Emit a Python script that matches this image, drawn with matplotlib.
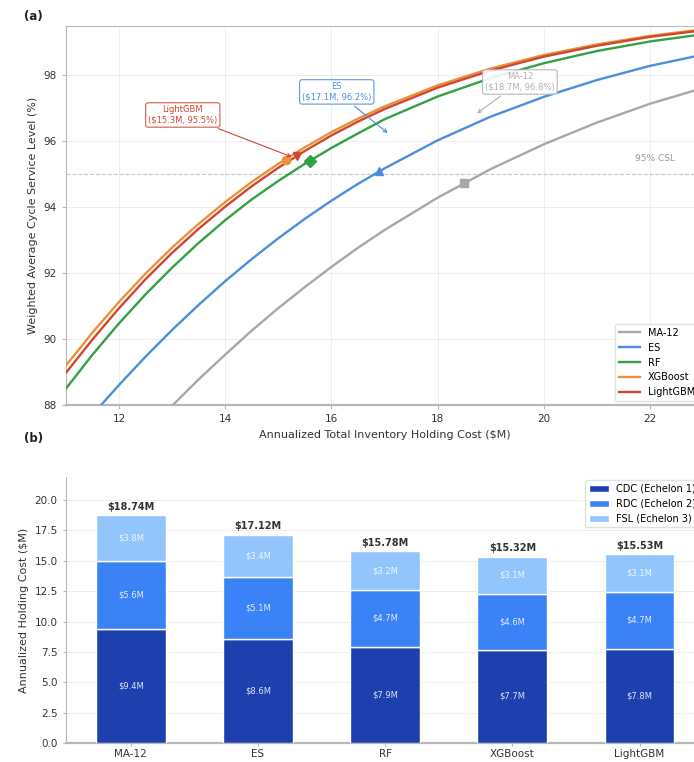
import numpy as np
import matplotlib.pyplot as plt

# ----------------------------------------------------------------------------
#    Data
# ----------------------------------------------------------------------------
cost_grid = [11, 11.5, 12, 12.5, 13, 13.5, 14, 14.5, 15, 15.5, 16, 16.5, 17,
             18, 19, 20, 21, 22, 23]

csl_ma12 = [84.38, 85.34, 86.26, 87.14, 87.98, 88.78, 89.53, 90.26, 90.94, 91.58,
            92.19, 92.77, 93.31, 94.29, 95.16, 95.91, 96.57, 97.14, 97.62]
csl_es = [86.75, 87.71, 88.61, 89.47, 90.28, 91.04, 91.76, 92.43, 93.06, 93.65,
          94.20, 94.71, 95.18, 96.03, 96.75, 97.35, 97.86, 98.29, 98.63]
csl_rf = [88.50, 89.53, 90.48, 91.36, 92.17, 92.92, 93.61, 94.24, 94.80, 95.32,
          95.80, 96.24, 96.67, 97.36, 97.92, 98.37, 98.74, 99.03, 99.25]
csl_xgb = [89.20, 90.20, 91.13, 91.99, 92.78, 93.50, 94.16, 94.77, 95.32, 95.82,
           96.28, 96.69, 97.06, 97.70, 98.21, 98.62, 98.94, 99.20, 99.40]
csl_lgbm = [88.98, 89.99, 90.94, 91.82, 92.62, 93.35, 94.02, 94.64, 95.20, 95.71,
            96.18, 96.60, 96.98, 97.63, 98.15, 98.57, 98.90, 99.17, 99.37]

models = ['MA-12', 'ES', 'RF', 'XGBoost', 'LightGBM']
op_cost = [18.5, 16.9, 15.6, 15.14, 15.35]
op_csl = [94.74, 95.1, 95.4, 95.42, 95.55]

# stacked holding cost by echelon ($M)
cdc = [9.37, 8.56, 7.89, 7.66, 7.77]
rdc = [5.60, 5.14, 4.73, 4.60, 4.66]
fsl = [3.77, 3.42, 3.16, 3.06, 3.10]
echelons = ['CDC (Echelon 1)', 'RDC (Echelon 2)', 'FSL (Echelon 3)']

# ----------------------------------------------------------------------------
#    Styling
# ----------------------------------------------------------------------------
line_colors = ['#a8a8a8', '#4a8fdc', '#33a043', '#e8923c', '#d2452f']
markers = ['s', '^', 'D', 'o', 'v']
bar_colors = ['#1e40af', '#3b82f6', '#93c5fd']
spine_c = '#b8b8b8'

plt.rcParams['font.family'] = ['DejaVu Sans']

fig = plt.figure(figsize=(6.94, 7.62), dpi=100)
ax1 = fig.add_axes([0.0951, 0.4685, 0.918, 0.4974])
ax2 = fig.add_axes([0.0951, 0.0250, 0.918, 0.3490])

# ==============================================================================
#    (a) cost vs service level
# ==============================================================================
curves = [csl_ma12, csl_es, csl_rf, csl_xgb, csl_lgbm]
for i in range(len(models)):
    ax1.plot(cost_grid, curves[i], color=line_colors[i], lw=1.7, label=models[i], zorder=3)
    ax1.plot(op_cost[i], op_csl[i], marker=markers[i], color=line_colors[i],
             ms=6, ls='none', zorder=4)

ax1.axhline(95, color='#c8c8c8', lw=0.8, ls='--', zorder=1)
ax1.text(22.1, 95.35, '95% CSL', color='#999999', fontsize=6.5, ha='center', va='bottom')

# annotations
ann = [
    ('LightGBM\n($15.3M, 95.5%)', (15.3, 95.5), (13.2, 96.8), line_colors[4]),
    ('ES\n($17.1M, 96.2%)', (17.1, 96.2), (16.1, 97.5), line_colors[1]),
    ('MA-12\n($18.7M, 96.8%)', (18.7, 96.8), (19.55, 97.8), '#b0b0b0'),
]
for txt, xy, xyt, c in ann:
    ax1.annotate(txt, xy=xy, xytext=xyt, fontsize=6, color=c, ha='center', va='center',
                 bbox=dict(boxstyle='round,pad=0.3', fc='white', ec=c, lw=0.8, alpha=0.9),
                 arrowprops=dict(arrowstyle='->', color=c, lw=0.8), zorder=5)

ax1.set_xlim(11, 23)
ax1.set_ylim(88, 99.5)
ax1.set_xticks([12, 14, 16, 18, 20, 22])
ax1.set_yticks([88, 90, 92, 94, 96, 98])
ax1.grid(True, color='#e6e6e6', lw=0.6, alpha=0.8)
ax1.set_axisbelow(True)
ax1.tick_params(labelsize=7.5, colors='#333333', length=3, color=spine_c)
for s in ax1.spines.values():
    s.set_color(spine_c)
ax1.spines['bottom'].set_linewidth(1.6)
ax1.set_xlabel('Annualized Total Inventory Holding Cost ($M)', fontsize=8, color='#333333')
ax1.set_ylabel('Weighted Average Cycle Service Level (%)', fontsize=8, color='#333333')
ax1.legend(loc='lower right', fontsize=7, frameon=True, framealpha=0.9,
           edgecolor='#dddddd', handlelength=2.2, borderaxespad=0.4)
fig.text(0.035, 0.978, '(a)', fontsize=8.5, fontweight='bold', color='#222222', va='center')

# ==============================================================================
#    (b) holding cost by echelon
# ==============================================================================
x = np.arange(len(models))
w = 0.55
layers = [cdc, rdc, fsl]
bottom = np.zeros(len(models))
for j in range(3):
    vals = np.array(layers[j])
    ax2.bar(x, vals, w, bottom=bottom, color=bar_colors[j], edgecolor='white',
            lw=1.0, label=echelons[j], zorder=3)
    for k in range(len(models)):
        ax2.text(x[k], bottom[k] + vals[k] / 2, f'${vals[k]:.1f}M', ha='center', va='center',
                 fontsize=6, color='white', alpha=0.85, zorder=4)
    bottom += vals

for k in range(len(models)):
    ax2.text(x[k], bottom[k] + 0.3, f'${bottom[k]:.2f}M', ha='center', va='bottom',
             fontsize=7, fontweight='bold', color='#333333')

ax2.set_xlim(-0.51, 4.5)
ax2.set_ylim(0, 21.9)
ax2.set_xticks(x)
ax2.set_xticklabels(models)
ax2.set_yticks(np.arange(0, 20.1, 2.5))
ax2.yaxis.set_major_formatter(plt.FormatStrFormatter('%.1f'))
ax2.grid(True, axis='y', color='#e6e6e6', lw=0.6, alpha=0.8)
ax2.set_axisbelow(True)
ax2.tick_params(labelsize=7.5, colors='#333333', length=2.5, color=spine_c)
ax2.tick_params(axis='x', pad=2)
ax2.spines['top'].set_visible(False)
ax2.spines['right'].set_visible(False)
ax2.spines['left'].set_color(spine_c)
ax2.spines['bottom'].set_color(spine_c)
ax2.spines['bottom'].set_linewidth(1.6)
ax2.set_ylabel('Annualized Holding Cost ($M)', fontsize=8, color='#333333')
ax2.legend(loc='upper right', fontsize=7, frameon=True, framealpha=0.9,
           edgecolor='#dddddd', borderaxespad=0.3)
fig.text(0.035, 0.425, '(b)', fontsize=8.5, fontweight='bold', color='#222222', va='center')

fig.savefig('out.png', dpi=100)
